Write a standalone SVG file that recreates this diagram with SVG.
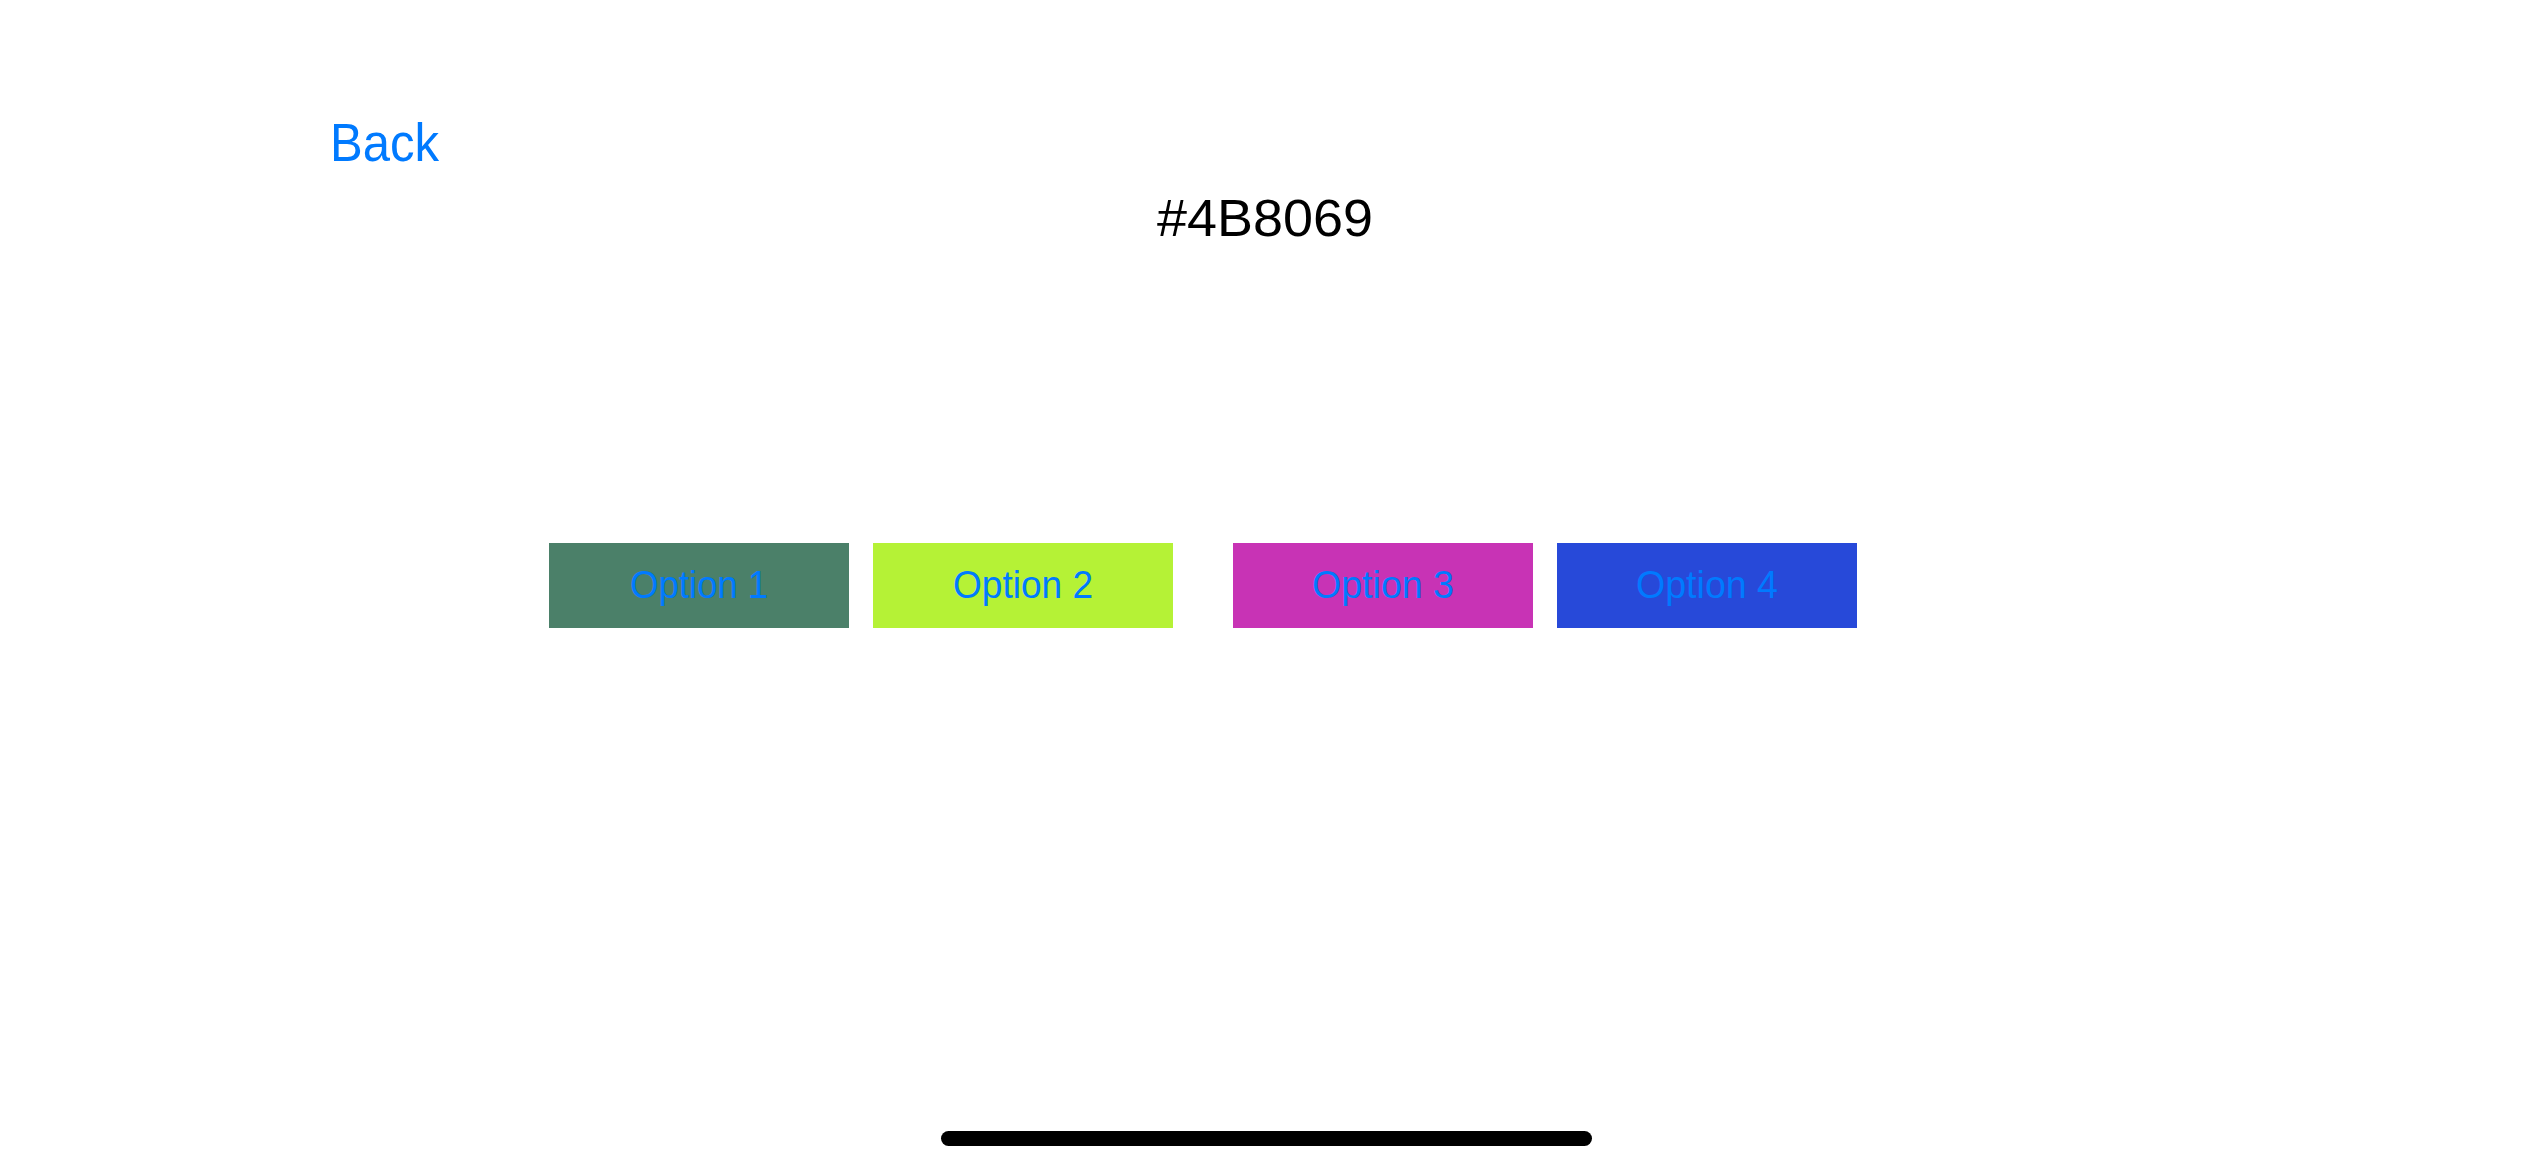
<svg xmlns="http://www.w3.org/2000/svg" width="2532" height="1170" viewBox="0 0 2532 1170">
  <style>
    .t { font-family: "Liberation Sans", Arial, sans-serif; }
    .blue { fill: #007AFF; }
    .opt { font-size: 38px; text-anchor: middle; }
  </style>
  <rect x="0" y="0" width="2532" height="1170" fill="#FFFFFF"/>
  <g id="back">
    <text class="t blue" x="330" y="161" font-size="54" textLength="109" lengthAdjust="spacingAndGlyphs">Back</text>
  </g>
  <g id="title">
    <text class="t" x="1265" y="236" font-size="52" text-anchor="middle" fill="#000000" textLength="216" lengthAdjust="spacingAndGlyphs">#4B8069</text>
  </g>
  <g id="option1">
    <rect x="549" y="543" width="300" height="85" fill="#4B8069"/>
    <text class="t blue opt" x="699" y="598" textLength="138" lengthAdjust="spacingAndGlyphs">Option 1</text>
  </g>
  <g id="option2">
    <rect x="873" y="543" width="300" height="85" fill="#B5F236"/>
    <text class="t blue opt" x="1023" y="598" textLength="140" lengthAdjust="spacingAndGlyphs">Option 2</text>
  </g>
  <g id="option3">
    <rect x="1233" y="543" width="300" height="85" fill="#C833B5"/>
    <text class="t blue opt" x="1383" y="598" textLength="142" lengthAdjust="spacingAndGlyphs">Option 3</text>
  </g>
  <g id="option4">
    <rect x="1557" y="543" width="300" height="85" fill="#2749D9"/>
    <text class="t blue opt" x="1707" y="598" textLength="142" lengthAdjust="spacingAndGlyphs">Option 4</text>
  </g>
  <g id="connectors"/>
  <g id="home-indicator">
    <rect x="941" y="1131" width="651" height="15" rx="7.5" ry="7.5" fill="#000000"/>
  </g>
</svg>
